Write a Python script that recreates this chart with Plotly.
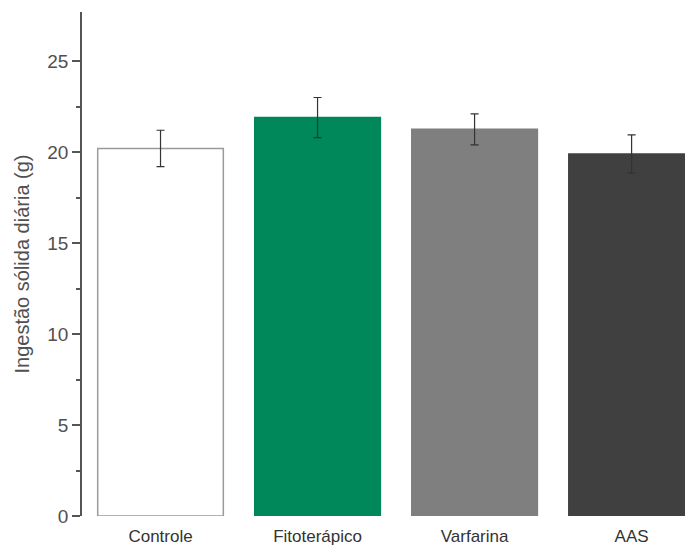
import plotly.graph_objects as go

categories = ["Controle", "Fitoterápico", "Varfarina", "AAS"]
values = [20.2, 21.9, 21.25, 19.9]
errors = [1.0, 1.1, 0.85, 1.05]
colors = ["#ffffff", "#00875a", "#7f7f7f", "#404040"]
line_colors = ["#9a9a9a", "#00875a", "#7f7f7f", "#404040"]

fig = go.Figure()
fig.add_trace(go.Bar(
    x=categories, y=values,
    marker=dict(color=colors, line=dict(color=line_colors, width=1.5)),
    width=0.8,
    error_y=dict(type="data", array=errors, visible=True, color="#333333", thickness=1.2, width=4),
))

fig.update_layout(
    width=685, height=548,
    margin=dict(l=82, r=0, t=12, b=32),
    paper_bgcolor="white", plot_bgcolor="white",
    font=dict(family="Liberation Sans, Arial, sans-serif", color="#333333"),
    showlegend=False,
)
fig.update_xaxes(
    range=[-0.5, 3.34], showline=False, showgrid=False, ticks="", automargin=False,
    tickfont=dict(size=17, color="#333333"), zeroline=False, ticklabelstandoff=8,
)
fig.update_yaxes(
    range=[0, 27.7], showline=True, linecolor="#555555", linewidth=1.5,
    showgrid=False, zeroline=False, automargin=False,
    ticks="outside", ticklen=8, tickwidth=1.5, tickcolor="#555555",
    tickvals=[0, 5, 10, 15, 20, 25],
    minor=dict(tickvals=[2.5, 7.5, 12.5, 17.5, 22.5], ticks="outside", ticklen=4, tickcolor="#555555", tickwidth=1.5),
    tickfont=dict(size=19, color="#505050"),
    title=dict(text="Ingestão sólida diária (g)", font=dict(size=20, color="#505050"), standoff=12),
)

fig.write_html(
    "out.html",
    config={"displayModeBar": False},
    post_script="document.body.style.margin='0';document.body.style.overflow='hidden';document.documentElement.style.overflow='hidden';",
)
